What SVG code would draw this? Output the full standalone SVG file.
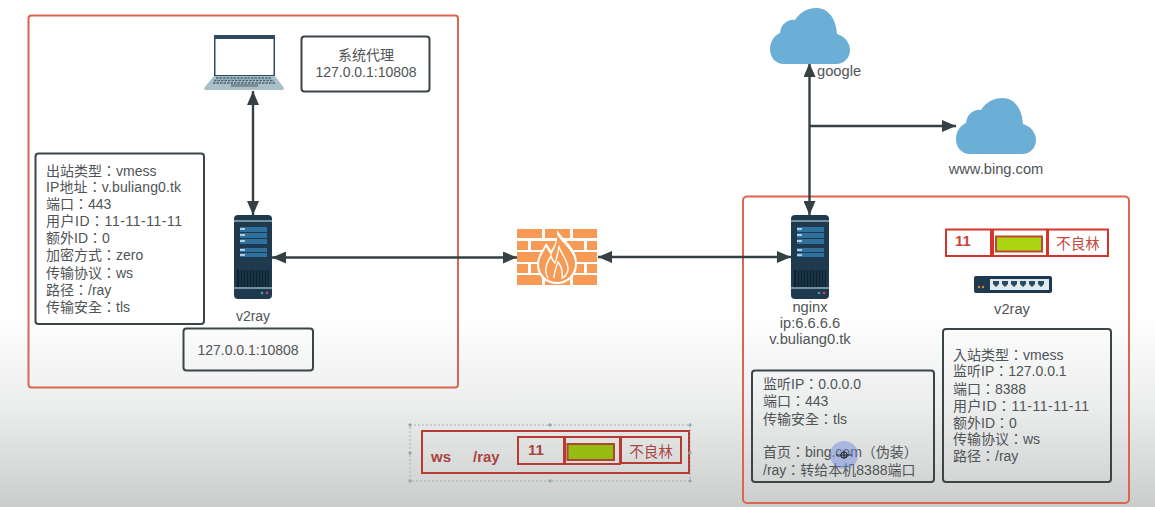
<svg xmlns="http://www.w3.org/2000/svg" width="1155" height="507" viewBox="0 0 1155 507">
<style>
text{font-family:"Liberation Sans","Noto Sans CJK TC",sans-serif;font-size:14px;fill:#4f5456}
.m{text-anchor:middle}
.l{font-size:14.7px}
.zone{fill:none;stroke:#d9674f;stroke-width:2}
.box{fill:none;stroke:#3a4548;stroke-width:2}
.rb{fill:none;stroke:#d5342a;stroke-width:2}
.rb2{fill:none;stroke:#b93a33;stroke-width:2}
.rt{fill:#c9463b;font-weight:700;font-size:15px}
.rt2{fill:#a9453e;font-weight:700;font-size:15px}
.n{font-weight:400;font-size:14.5px}
.link{fill:none;stroke:#354044;stroke-width:2.4}
.cl{fill:#6bafd6}
.br{fill:#f79a55}
.h{fill:#a9b6b6;stroke:#8fa5a5;stroke-width:1}
</style>
<defs>
<linearGradient id="bg" x1="0" y1="0" x2="0" y2="1"><stop offset="0.62" stop-color="#fff"/><stop offset="0.8" stop-color="#eceded"/><stop offset="1" stop-color="#cbcdcd"/></linearGradient>
<marker id="a" markerUnits="userSpaceOnUse" markerWidth="14" markerHeight="12" refX="14" refY="6" orient="auto-start-reverse"><path d="M0,0L14,6L0,12Z" fill="#354044"/></marker>
<g id="cloud"><path class="cl" d="M14,56C5,56 0,49 0,41C0,33 5,27 10,25C11,16 18,11 25,12C30,4 38,0 46,0C58,0 66,10 67,26C74,28 80,34 80,42C80,50 74,56 66,56Z"/></g>
<g id="server">
<rect width="38" height="84" rx="4" fill="#1f3a4f"/>
<path d="M0,6H38M0,73H38" stroke="#8fb0c0" stroke-width="1.5"/>
<path d="M6,12H33V17H6ZM6,18H33V23H6ZM6,24H33V29H6ZM6,33H33V37H6ZM6,38H33V42H6Z" fill="#2f709d"/>
<path d="M6,14H11M6,20H11M6,26H11M6,35H11M6,40H11" stroke="#dce9ee" stroke-width="1.5"/>
<rect x="3" y="55" width="32" height="17" fill="#0e2130"/>
<path d="M6,55V72M9,55V72M12,55V72M15,55V72M18,55V72M21,55V72M24,55V72M27,55V72M30,55V72M33,55V72" stroke="#27465b" stroke-width="1"/>
<circle cx="28" cy="78" r="1.3" fill="#3fa98a"/><circle cx="33" cy="78" r="1.3" fill="#c0506a"/>
</g>
</defs>
<rect id="background" width="1155" height="507" fill="url(#bg)"/>
<rect class="zone" x="28.5" y="15.5" width="429.5" height="372" rx="3"/>
<rect class="zone" x="743" y="196.5" width="386" height="306.5" rx="4"/>

<g id="connectors">
<path class="link" d="M253,91V215" marker-start="url(#a)" marker-end="url(#a)"/>
<path class="link" d="M272,257.5L517,257.5" marker-start="url(#a)" marker-end="url(#a)"/>
<path class="link" d="M598,257H791" marker-start="url(#a)" marker-end="url(#a)"/>
<path class="link" d="M809.5,215V63" marker-start="url(#a)" marker-end="url(#a)"/>
<path class="link" d="M809.5,126H956" marker-end="url(#a)"/>
</g>

<g id="laptop">
<rect x="214" y="35" width="61" height="41" fill="#2f4a5f"/>
<rect x="215.5" y="39" width="58" height="36" fill="#fff"/>
<path d="M214,76H275L284,88Q284,90 282,90H206Q204,90 204,88Z" fill="#a9c0c9"/>
<path d="M216,78H272M214,80.5H274M213,83H276" stroke="#4c6472" stroke-width="1.4" stroke-dasharray="2.5 1"/>
<rect x="231" y="84" width="27" height="3" fill="#7d8d96"/>
</g>
<g id="proxy-box">
<rect class="box" x="301.5" y="36.5" width="128" height="55" rx="3"/>
<text class="m" x="366" y="60">系统代理</text>
<text class="m" x="366" y="77">127.0.0.1:10808</text>
</g>
<g id="outbound-box">
<rect class="box" x="35.5" y="153.5" width="168.5" height="170.5" rx="3"/>
<text x="46" y="176">出站类型：vmess</text>
<text x="46" y="192" textLength="135">IP地址：v.buliang0.tk</text>
<text x="46" y="209">端口：443</text>
<text x="46" y="226" textLength="136">用户ID：11-11-11-11</text>
<text x="46" y="243">额外ID：0</text>
<text x="46" y="260">加密方式：zero</text>
<text x="46" y="278">传输协议：ws</text>
<text x="46" y="295">路径：/ray</text>
<text x="46" y="312">传输安全：tls</text>
</g>
<g id="client-v2ray">
<use href="#server" x="234" y="215"/>
<text class="m" x="253" y="321">v2ray</text>
</g>
<g id="local-port-box">
<rect class="box" x="183.5" y="328.5" width="129.5" height="42" rx="3"/>
<text class="m" x="248" y="355">127.0.0.1:10808</text>
</g>
<g id="firewall">
<path class="br" d="M517,229H542V238H517ZM545,229H570V238H545ZM573,229H597V238H573ZM517,241H528V250H517ZM531,241H556V250H531ZM559,241H584V250H559ZM587,241H597V250H587ZM517,252H542V262H517ZM545,252H570V262H545ZM573,252H597V262H573ZM517,264H528V273H517ZM531,264H556V273H531ZM559,264H584V273H559ZM587,264H597V273H587ZM517,275H542V285H517ZM545,275H570V285H545ZM573,275H597V285H573Z"/>
<path d="M557,230C563,240 577,247 577,264C577,276 568,284 557,284C546,284 537,276 537,265C537,255 543,250 546,243C549,247 550,248 551,251C555,245 558,238 557,230Z" fill="#fff"/>
<path d="M557,234C561,243 575,250 575,264C575,274 567,282 557,282C547,282 539,274 539,265C539,257 544,252 546,247C548,250 549,252 551,255C555,248 558,242 557,234Z" fill="#f79a55"/>
<path d="M548,278C543,270 547,262 551,256C552,260 553,261 555,263C557,258 558,252 559,247C562,255 569,262 568,270C567,274 565,277 562,278C563,272 561,266 558,262C556,268 554,272 554,278" fill="none" stroke="#fff" stroke-width="1.4"/>
</g>
<g id="nginx">
<use href="#server" x="791" y="215"/>
<text class="m l" x="810" y="312">nginx</text>
<text class="m l" x="810" y="328">ip:6.6.6.6</text>
<text class="m l" x="810" y="344">v.buliang0.tk</text>
</g>
<g id="google">
<use href="#cloud" x="770" y="8"/>
<text class="l" x="817" y="76">google</text>
</g>
<g id="bing">
<use href="#cloud" x="956" y="98"/>
<text class="m l" x="996" y="174">www.bing.com</text>
</g>
<g id="packet-top">
<rect class="rb" x="946" y="229.5" width="45" height="26.5"/>
<rect class="rb" x="993" y="229.5" width="54" height="26.5"/>
<rect class="rb" x="1048" y="229.5" width="60" height="26.5"/>
<rect x="996" y="236.5" width="46" height="15" fill="#a9d512" stroke="#c0452c" stroke-width="2"/>
<text class="rt" x="955" y="246">11</text>
<text class="rt m n" x="1078" y="249">不良林</text>
</g>
<g id="switch-v2ray">
<rect x="974" y="276" width="78" height="17" rx="2" fill="#1f3a4f"/>
<rect x="990" y="279" width="59" height="11" fill="#dfeaf0"/>
<path d="M993,281H999V284L996,287L993,284ZM1002,281H1008V284L1005,287L1002,284ZM1011,281H1017V284L1014,287L1011,284ZM1020,281H1026V284L1023,287L1020,284ZM1029,281H1035V284L1032,287L1029,284ZM1038,281H1044V284L1041,287L1038,284Z" fill="#2c4a5f"/>
<circle cx="979" cy="287" r="1.2" fill="#d98a3d"/><circle cx="983" cy="287" r="1.2" fill="#d98a3d"/>
<text class="m l" x="1012" y="314">v2ray</text>
</g>
<g id="inbound-box">
<rect class="box" x="943" y="329" width="168" height="153" rx="3"/>
<text x="953" y="360">入站类型：vmess</text>
<text x="953" y="376">监听IP：127.0.0.1</text>
<text x="953" y="394">端口：8388</text>
<text x="953" y="411" textLength="136">用户ID：11-11-11-11</text>
<text x="953" y="428">额外ID：0</text>
<text x="953" y="444">传输协议：ws</text>
<text x="953" y="461">路径：/ray</text>
</g>
<g id="nginx-box">
<rect class="box" x="752" y="370.5" width="182" height="111.5" rx="3"/>
<text x="763" y="389">监听IP：0.0.0.0</text>
<text x="763" y="406">端口：443</text>
<text x="763" y="424">传输安全：tls</text>
<text x="763" y="457">首页：bing.com（伪装）</text>
<text x="763" y="475">/ray：转给本机8388端口</text>
</g>
<g id="packet-bottom">
<rect x="410" y="425" width="280" height="56" fill="none" stroke="#9db2b2" stroke-width="1" stroke-dasharray="2 2"/>
<rect class="rb2" x="422" y="431" width="267" height="42"/>
<rect class="rb2" x="518" y="437" width="46" height="27"/>
<rect class="rb2" x="565" y="437" width="55" height="27"/>
<rect class="rb2" x="621" y="437" width="60" height="26"/>
<rect x="567.5" y="444" width="46.5" height="16" fill="#96bc14" stroke="#b0452c" stroke-width="2"/>
<text class="rt2" x="431" y="462">ws</text>
<text class="rt2" x="473" y="462">/ray</text>
<text class="rt2" x="528" y="455">11</text>
<text class="rt2 m n" x="651" y="457">不良林</text>
<path class="h" d="M409,424h2v2h-2zM549,424h2v2h-2zM689,424h2v2h-2zM409,452h2v2h-2zM689,452h2v2h-2zM409,480h2v2h-2zM549,480h2v2h-2zM689,480h2v2h-2z"/>
</g>
<g id="cursor">
<circle cx="844" cy="455" r="14" fill="#6a85de" fill-opacity="0.45"/>
<circle cx="844" cy="455" r="3" fill="none" stroke="#2b2f33" stroke-width="1.2"/>
<path d="M836,455H852M844,451V459" stroke="#2b2f33" stroke-width="1"/>
</g>
</svg>
